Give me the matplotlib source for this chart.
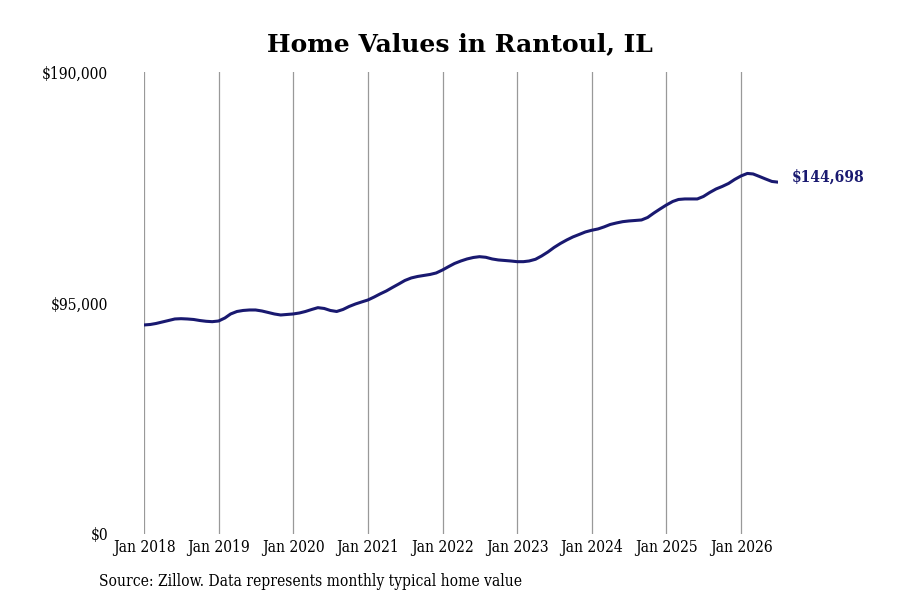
import matplotlib

matplotlib.use("Agg")
import matplotlib.pyplot as plt
import numpy as np
import pandas as pd

# monthly typical home value, Jan 2018 - Jul 2026
values_2018 = [85960, 86170, 86580, 87200, 87800, 88430, 88550, 88430, 88220, 87800, 87480, 87320]
values_2019 = [87600, 88840, 90490, 91510, 91930, 92130, 92130, 91720, 91100, 90490, 90070, 90280]
values_2020 = [90490, 90900, 91510, 92340, 93080, 92750, 91930, 91510, 92340, 93570, 94600, 95420]
values_2021 = [96240, 97480, 98710, 99950, 101390, 102830, 104270, 105300, 105910, 106320, 106740, 107350]
values_2022 = [108580, 110020, 111260, 112280, 113110, 113720, 114050, 113800, 113110, 112700, 112490, 112280]
values_2023 = [112000, 112000, 112280, 112980, 114340, 115990, 117840, 119480, 120920, 122160, 123190, 124210]
values_2024 = [124910, 125450, 126270, 127300, 127910, 128450, 128740, 128940, 129150, 130180, 132030, 133680]
values_2025 = [135320, 136760, 137580, 137790, 137790, 137790, 138810, 140460, 141900, 142930, 144160, 145810]
values_2026 = [147250, 148280, 148070, 147040, 146010, 144990, 144698]

home_values = (values_2018 + values_2019 + values_2020 + values_2021 + values_2022
               + values_2023 + values_2024 + values_2025 + values_2026)
dates = pd.date_range("2018-01-01", periods=len(home_values), freq="MS")

tick_years = list(range(2018, 2027))
y_ticks = [0, 95000, 190000]
y_tick_labels = ["$0", "$95,000", "$190,000"]

title = "Home Values in Rantoul, IL"
source = "Source: Zillow. Data represents monthly typical home value"

line_color = "#191970"
serif = {"family": "DejaVu Serif", "stretch": "condensed"}

fig = plt.figure(figsize=(9, 6), dpi=100)
ax = fig.add_axes([144 / 900, 1 - 534 / 600, (778 - 144) / 900, (534 - 72) / 600])

ax.plot(dates, home_values, color=line_color, linewidth=2.2, solid_capstyle="round")

ax.set_xlim(dates[0], dates[-1])
ax.set_ylim(0, 190000)

tick_dates = [pd.Timestamp(f"{y}-01-01") for y in tick_years]
ax.set_xticks(tick_dates)
ax.set_xticklabels([f"Jan {y}" for y in tick_years], fontdict=serif, fontsize=11.2)
ax.set_yticks(y_ticks)
ax.set_yticklabels(y_tick_labels, fontdict=serif, fontsize=11.2)

ax.tick_params(axis="x", length=0, pad=3.5)
ax.tick_params(axis="y", length=0, pad=26)
ax.grid(axis="x", color="#999999", linewidth=0.9)
ax.grid(axis="y", visible=False)
for spine in ax.spines.values():
    spine.set_visible(False)

ax.annotate(f"${home_values[-1]:,}", xy=(dates[-1], home_values[-1]),
            xytext=(10, 3.6), textcoords="offset points", va="center", ha="left",
            color=line_color, fontweight="bold", fontsize=11.2, family="DejaVu Serif",
            stretch="condensed")

fig.text(460 / 900, 1 - 44 / 600, title, ha="center", va="center",
         fontsize=18, fontweight="bold", family="DejaVu Serif")
fig.text(99 / 900, 1 - 582 / 600, source, ha="left", va="center",
         fontsize=11.2, family="DejaVu Serif", stretch="condensed")

fig.savefig("out.png", dpi=100)
plt.close(fig)
